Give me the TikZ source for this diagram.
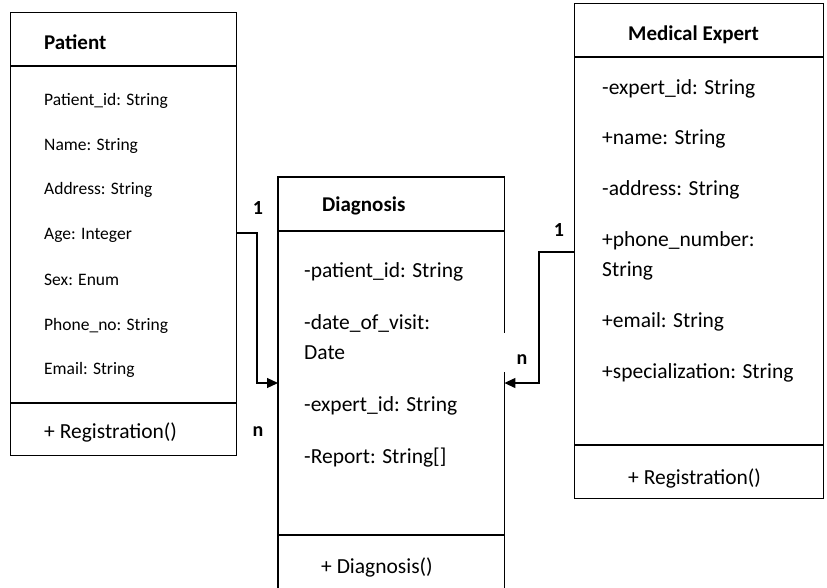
\documentclass[tikz,border=0pt]{standalone}
\usepackage{fontspec}
\setmainfont{Carlito}
\usetikzlibrary{arrows.meta}
\begin{document}
\begin{tikzpicture}[x=1pt,y=-1pt,
  frame/.style={line width=1.3pt},
  classbox/.style={draw,frame,anchor=north west,inner sep=0pt},
  openbox/.style={anchor=north west,inner sep=0pt},
  txt/.style={anchor=west,inner sep=0pt,text height=1.2em,text depth=0em},
  head/.style={txt,font=\fontsize{21}{24}\selectfont\bfseries},
  small/.style={txt,font=\fontsize{17.5}{20}\selectfont},
  big/.style={txt,font=\fontsize{21.5}{25}\selectfont},
  mult/.style={inner sep=0pt,font=\fontsize{20}{24}\selectfont\bfseries},
  conn/.style={line width=1.2pt,-{Triangle[length=11pt,width=10pt]}}]
\useasboundingbox (0,0) rectangle (827,587);

% Patient
\node[classbox,minimum width=226pt,minimum height=443pt] (patient) at (10,12) {};
\draw[frame] (patient.west |- 0,66) -- (patient.east |- 0,66);
\draw[frame] (patient.west |- 0,403) -- (patient.east |- 0,403);
\node[head] (pHead) at (44,43) {Patient};
\node[small] (pId) at (44,99) {Patient\_id: String};
\node[small] (pName) at (44,144) {Name: String};
\node[small] (pAddr) at (44,188) {Address: String};
\node[small] (pAge) at (44,233) {Age: Integer};
\node[small] (pSex) at (44,279) {Sex: Enum};
\node[small] (pPhone) at (44,324) {Phone\_no: String};
\node[small] (pMail) at (44,368) {Email: String};
\node[big] (pReg) at (44,432) {+ Registration()};

% Diagnosis
\node[openbox,minimum width=226pt,minimum height=412pt] (diag) at (278,177) {};
\draw[frame] (diag.south west) -- (diag.north west) -- (diag.north east) -- (diag.east |- 0,333);
\draw[frame] (diag.east |- 0,372) -- (diag.south east);
\draw[frame] (diag.west |- 0,231) -- (diag.east |- 0,231);
\draw[frame] (diag.west |- 0,535) -- (diag.east |- 0,535);
\node[head] (dHead) at (322,205) {Diagnosis};
\node[big] (dPid) at (304,271) {-patient\_id: String};
\node[big] (dDate) at (304,323) {-date\_of\_visit:};
\node[big] (dDate2) at (304,353) {Date};
\node[big] (dEid) at (304,405) {-expert\_id: String};
\node[big] (dRep) at (304,457) {-Report: String[]};
\node[big] (dMeth) at (321,567) {+ Diagnosis()};

% Medical Expert
\node[classbox,minimum width=249pt,minimum height=495pt] (expert) at (574,3) {};
\draw[frame] (expert.west |- 0,57) -- (expert.east |- 0,57);
\draw[frame] (expert.west |- 0,445) -- (expert.east |- 0,445);
\node[head] (eHead) at (628,34) {Medical Expert};
\node[big] (eId) at (602,88) {-expert\_id: String};
\node[big] (eName) at (602,138) {+name: String};
\node[big] (eAddr) at (602,189) {-address: String};
\node[big] (ePhone) at (602,240) {+phone\_number:};
\node[big] (ePhone2) at (602,270) {String};
\node[big] (eMail) at (602,321) {+email: String};
\node[big] (eSpec) at (602,372) {+specialization: String};
\node[big] (eReg) at (628,478) {+ Registration()};

% Connectors
\coordinate (c1a) at (257,233);
\coordinate (c1b) at (257,383);
\draw[conn] (pAge -| patient.east) -- (c1a) -- (c1b) -- (diag.west |- c1b);
\coordinate (c2s) at (expert.west |- 0,252);
\coordinate (c2a) at (539,252);
\coordinate (c2b) at (539,383);
\draw[conn] (c2s) -- (c2a) -- (c2b) -- (diag.east |- c2b);

% Multiplicities
\node[mult] (m1) at (258,208) {1};
\node[mult] (m2) at (258,432) {n};
\node[mult] (m3) at (559,230) {1};
\node[mult] (m4) at (522,360) {n};
\end{tikzpicture}
\end{document}
